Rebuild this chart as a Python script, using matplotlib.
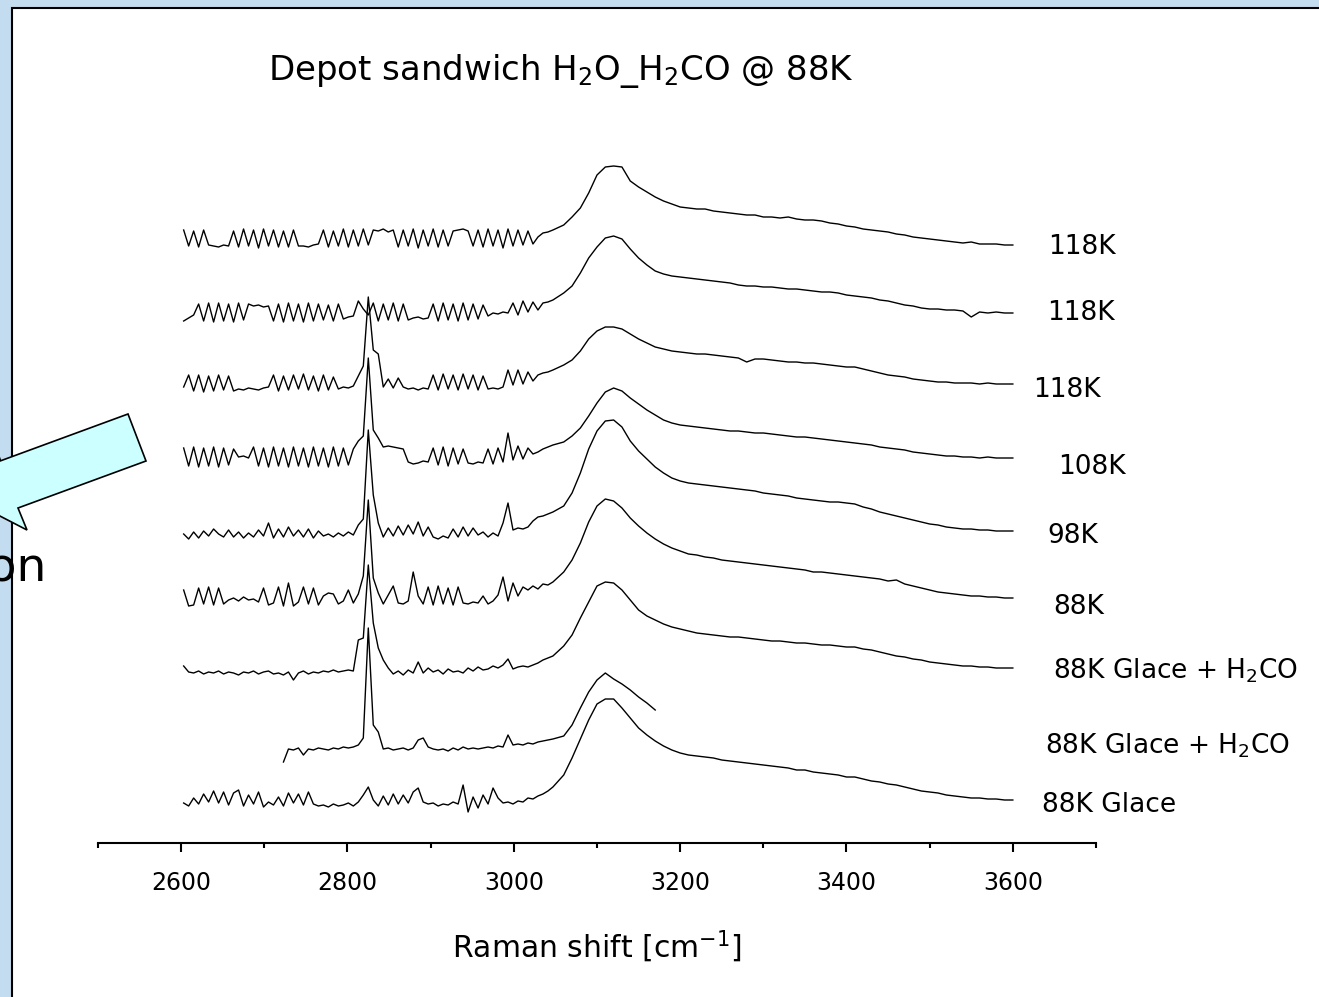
import numpy as np
import matplotlib.pyplot as plt
from matplotlib.patches import Polygon, Rectangle
from matplotlib.ticker import MultipleLocator

# wavenumber grids (cm-1): fine one for the fringe region, coarser for the OH band
wn_low = np.arange(2603, 3048, 6)     # 75 points
wn_high = np.arange(3060, 3601, 10)   # 55 points

# intensities (arb. units), top spectrum first
k118a_low = [15, -1, 14, -2, 15, 0, -1, -2, 0, -1,
             14, -2, 16, -1, 15, -3, 16, -1, 15, -2,
             14, -2, 15, -1, -1, -2, 0, 1, 15, -2,
             14, -1, 16, -2, 15, -1, 16, 0, 15, 14,
             16, 13, 15, -2, 15, -1, 16, -3, 15, -1,
             16, -2, 15, -1, 14, 15, 16, 14, -1, 15,
             -2, 16, -1, 15, -3, 16, -1, 15, 0, 14,
             1, 8, 12, 13, 15]
k118a_high = [20, 28, 37, 52, 70, 78, 79, 78, 64, 58,
              53, 48, 44, 41, 38, 37, 36, 36, 34, 33,
              32, 31, 30, 30, 28, 28, 27, 28, 26, 25,
              25, 24, 22, 21, 19, 18, 16, 15, 14, 13,
              11, 10, 8, 7, 6, 5, 4, 3, 2, 3,
              1, 1, 1, 0, 0]

k118b_low = [-8, -5, -2, 9, -8, 10, -9, 10, -8, 9,
             -9, 10, -7, 9, 7, 8, 6, 7, -8, 9,
             -9, 10, -8, 9, -9, 10, -8, 9, -7, 8,
             -8, 9, -6, -4, -3, 12, 4, -2, 10, -8,
             9, -7, 10, -8, 9, -7, -5, -4, -6, -5,
             9, -8, 10, -7, 9, -8, 10, -7, 9, -6,
             8, -3, 0, -1, 1, 0, 10, -2, 12, 1,
             11, 3, 10, 11, 13]
k118b_high = [20, 27, 40, 55, 66, 75, 77, 74, 64, 55,
              48, 42, 39, 37, 36, 35, 34, 33, 32, 31,
              30, 28, 27, 27, 26, 26, 25, 24, 24, 23,
              22, 21, 21, 20, 18, 17, 16, 15, 13, 12,
              10, 8, 7, 5, 4, 4, 3, 3, 2, -4,
              1, 0, 1, 0, 0]

k118c_low = [-3, 9, -7, 9, -8, 8, -7, 9, -6, 8,
             -7, -5, -6, -4, -5, -6, -4, -3, 9, -7,
             8, -6, 9, -5, 10, -6, 8, -7, 9, -6,
             7, -5, -3, -4, -2, 8, 18, 87, 34, 30,
             -3, 5, -4, 6, -3, -5, -4, -6, -4, -5,
             9, -6, 10, -5, 9, -6, 10, -5, 9, -6,
             8, -5, -4, -5, -3, 14, -1, 14, 0, 12,
             3, 9, 11, 12, 14]
k118c_high = [19, 24, 33, 45, 53, 57, 57, 55, 50, 45,
              41, 37, 35, 33, 32, 31, 30, 30, 29, 28,
              27, 26, 22, 25, 25, 24, 23, 22, 22, 21,
              21, 20, 19, 18, 17, 17, 15, 13, 11, 9,
              8, 7, 5, 4, 3, 2, 2, 1, 1, 1,
              0, 1, 0, 0, 0]

k108_low = [10, -8, 11, -9, 10, -8, 11, -9, 10, -7,
            9, 1, 2, 0, 11, -8, 10, -9, 11, -8,
            10, -9, 11, -8, 10, -9, 11, -8, 10, -9,
            11, -8, 10, -7, 9, 17, 22, 100, 28, 20,
            11, 12, 11, 10, 9, -4, -6, -5, -3, -4,
            10, -7, 11, -8, 10, -6, 9, -5, -6, -4,
            -5, 9, -6, 10, -4, 25, -2, 12, -1, 10,
            4, 6, 9, 11, 13]
k108_high = [16, 22, 30, 42, 55, 66, 70, 67, 60, 54,
             48, 43, 38, 35, 33, 32, 31, 30, 29, 28,
             27, 27, 26, 25, 25, 24, 23, 22, 21, 21,
             20, 19, 18, 17, 16, 15, 14, 13, 11, 10,
             9, 8, 6, 5, 4, 3, 2, 2, 1, 1,
             0, 1, 0, 0, 0]

k98_low = [-3, -8, -1, -7, 0, -5, 2, -3, -6, 1,
           -6, -1, -7, -2, -6, 1, -5, 8, -7, 2,
           -6, 4, -5, 1, -6, 2, -7, 0, -5, -3,
           -6, -2, -5, -1, -4, 6, 12, 101, 36, 8,
           -6, 3, -5, 5, -4, 6, -3, 9, -5, 4,
           -6, -8, -5, -7, 2, -6, 4, -5, 3, -4,
           -1, -6, -2, -5, 8, 28, 1, 3, 2, 4,
           10, 14, 15, 17, 19]
k98_high = [25, 38, 58, 82, 100, 110, 111, 104, 90, 80,
            72, 64, 58, 53, 50, 48, 47, 46, 45, 44,
            43, 42, 41, 40, 38, 37, 36, 35, 33, 32,
            31, 30, 29, 29, 28, 27, 24, 22, 19, 17,
            15, 13, 11, 9, 7, 6, 4, 3, 2, 2,
            1, 1, 0, 0, 0]

k88_low = [8, -8, -7, 10, -6, 11, -7, 10, -6, -2,
           0, -3, 1, -2, -1, -4, 10, -7, -5, 11,
           -8, 15, -8, -4, 11, -6, 10, -7, 2, 5,
           4, -6, -3, 8, -5, 4, 22, 98, 20, 5,
           -6, 3, 12, -5, -6, -3, 26, 2, -6, 11,
           -7, 12, -6, 10, -7, 11, -5, -6, -4, -5,
           2, -6, -3, 3, 21, -3, 15, 2, 11, 8,
           12, 9, 14, 13, 16]
k88_high = [26, 38, 55, 76, 92, 99, 97, 90, 80, 72,
            65, 59, 54, 50, 47, 44, 43, 41, 40, 38,
            37, 36, 35, 34, 33, 32, 31, 30, 29, 28,
            26, 26, 25, 24, 23, 22, 21, 20, 19, 17,
            18, 14, 12, 10, 8, 6, 5, 4, 3, 2,
            2, 1, 1, 0, 0]

mix_a_low = [2, -4, -5, -3, -6, -4, -5, -3, -6, -4,
             -5, -7, -4, -5, -3, -6, -4, -3, -6, -5,
             -7, -4, -12, -5, -3, -6, -4, -5, -3, -4,
             -2, -4, -3, -2, -3, 28, 30, 103, 45, 20,
             8, 0, -6, -3, -7, -2, -5, 6, -5, 0,
             -4, -2, -6, -1, -4, -3, -5, 0, -3, 1,
             -2, -1, 2, 0, 3, 9, -1, 1, 2, 1,
             3, 5, 8, 10, 12]
mix_a_high = [22, 33, 50, 66, 82, 86, 85, 78, 68, 58,
              52, 48, 44, 41, 39, 37, 35, 34, 33, 32,
              31, 31, 30, 29, 28, 27, 27, 26, 25, 25,
              24, 23, 23, 22, 21, 21, 19, 18, 16, 14,
              12, 11, 9, 8, 6, 5, 4, 3, 2, 2,
              1, 1, 0, 0, 0]

# this one was only recorded between ~2720 and ~3170 cm-1
mix_b_low = [np.nan] * 20 + [
             -12, 1, 0, 2, -5, 1, 0, 2, 1, 0,
             2, 1, 3, 2, 3, 5, 12, 122, 25, 18,
             1, 2, 0, 1, 2, 0, 2, 10, 12, 3,
             1, 0, 1, -1, 2, 0, 3, 1, 2, 1,
             2, 3, 2, 4, 3, 15, 5, 6, 5, 7,
             6, 8, 9, 10, 11]
mix_b_high = [14, 25, 42, 58, 70, 77, 71, 66, 60, 53, 47, 40] + [np.nan] * 43

ice_low = [-3, -6, 2, -4, 6, -2, 9, -3, 8, -5,
           7, 10, -6, 5, -4, 8, -7, -2, -5, 3,
           -6, 7, -3, 6, -5, 8, -4, -6, -5, -7,
           -4, -6, -5, -3, -6, -2, 5, 13, 0, -6,
           4, -5, 6, -4, 5, -3, 8, 12, -2, -4,
           -3, -6, -4, -5, -2, -4, 15, -12, 3, -8,
           5, -4, 12, 2, -3, -2, -4, -1, -2, 2,
           1, 4, 6, 9, 13]
ice_high = [25, 42, 61, 80, 96, 101, 101, 92, 82, 72,
            65, 59, 54, 50, 47, 45, 44, 43, 42, 40,
            39, 38, 37, 36, 35, 34, 33, 32, 30, 30,
            28, 27, 26, 25, 23, 23, 21, 19, 18, 16,
            15, 13, 11, 9, 8, 7, 5, 4, 3, 2,
            2, 1, 1, 0, 0]

spectra = [(k118a_low, k118a_high), (k118b_low, k118b_high), (k118c_low, k118c_high),
           (k108_low, k108_high), (k98_low, k98_high), (k88_low, k88_high),
           (mix_a_low, mix_a_high), (mix_b_low, mix_b_high), (ice_low, ice_high)]
offsets = [598, 530, 459, 385, 312, 245, 175, 93, 43]
labels = ['118K', '118K', '118K', '108K', '98K', '88K',
          '88K Glace + H$_2$CO', '88K Glace + H$_2$CO', '88K Glace']
label_x = [3642, 3641, 3624, 3654, 3642, 3648, 3648, 3639, 3635]
label_y = [596, 530, 453, 376, 307, 236, 172, 97, 38]

W, H = 1319, 997
fig = plt.figure(figsize=(W / 100, H / 100), dpi=100)
fig.patch.set_facecolor('#c4dcef')

# slide background: white panel, cyan arrow, word cut by the left edge
bg = fig.add_axes([0, 0, 1, 1])
bg.set_xlim(0, W)
bg.set_ylim(H, 0)
bg.axis('off')
bg.add_patch(Rectangle((12, 8), W + 50, H + 50, facecolor='white',
                       edgecolor='black', lw=1.5))
arrow = [(128, 414), (146, 461), (18, 508), (27, 530), (-35, 498),
         (-7.6, 438.5), (0.6, 460.8)]
bg.add_patch(Polygon(arrow, closed=True, facecolor='#ccffff',
                     edgecolor='black', lw=1.2, clip_on=False))
bg.text(47, 580, 'tion', fontsize=34, ha='right', va='baseline', color='black')

ax = fig.add_axes([98 / W, 1 - 843 / H, 998 / W, 843 / H])
ax.patch.set_alpha(0)

x = np.concatenate([wn_low, wn_high])
for (lo, hi), off in zip(spectra, offsets):
    y = np.concatenate([np.array(lo, float), np.array(hi, float)]) + off
    ax.plot(x, y, color='black', lw=1.0)

for lx, ly, lab in zip(label_x, label_y, labels):
    ax.text(lx, ly, lab, fontsize=19, va='center', ha='left')

ax.text(2705, 772, 'Depot sandwich H$_2$O_H$_2$CO @ 88K', fontsize=24.5,
        va='center', ha='left')

ax.set_xlim(2500, 3700)
ax.set_ylim(0, 843)
for s in ['left', 'right', 'top']:
    ax.spines[s].set_visible(False)
ax.spines['bottom'].set_linewidth(1.5)
ax.set_yticks([])
ax.xaxis.set_major_locator(MultipleLocator(200))
ax.xaxis.set_minor_locator(MultipleLocator(100))
ax.tick_params(axis='x', which='major', direction='out', length=6.5, width=1.5,
               labelsize=17, pad=14)
ax.tick_params(axis='x', which='minor', direction='out', length=3.5, width=1.5)

fig.text(597 / W, 1 - 947 / H, 'Raman shift [cm$^{-1}$]', ha='center',
         va='center', fontsize=21.5)

fig.savefig('out.png', dpi=100)
